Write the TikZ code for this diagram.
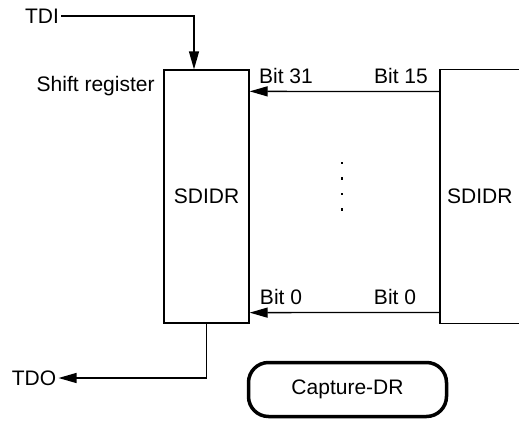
\documentclass[tikz,border=0pt]{standalone}
\usepackage{fontspec}
\setmainfont{Liberation Sans}
\usetikzlibrary{arrows.meta,calc,positioning}

\begin{document}
\begin{tikzpicture}[
    x=0.5pt, y=-0.5pt,
    >={Triangle[length=9pt,width=5pt]},
    every node/.style = {font=\fontsize{10.5}{12}\selectfont, inner sep=1pt},
    reg/.style   = {draw, line width=0.65pt,
                    minimum width=42.5pt, minimum height=126.5pt},
    sig/.style   = {line width=0.65pt,->},
    edge/.style  = {line width=0.65pt},
    state/.style = {draw, line width=1.75pt, rounded corners=10pt,
                    minimum width=99pt, minimum height=27pt},
    dot/.style   = {fill, inner sep=0pt, minimum size=1.3pt}
  ]

  \useasboundingbox (0,0) rectangle (519,423);
  \coordinate (origin) at (0,0);

  % registers
  \node[reg] (sdidr) at ($(origin)+(206.5,196.5)$) {SDIDR};
  \node[minimum width=39.25pt, minimum height=126.5pt] (src) at ($(origin)+(479.75,196.5)$) {SDIDR};
  \draw[edge] (src.north east) -- (src.north west) -- (src.south west) -- (src.south east);

  % labels
  \node (tdi) at ($(origin)+(42,16)$) {TDI};
  \node (tdo) at ($(origin)+(34,378)$) {TDO};
  \node[anchor=east] (shift) at ($(origin)+(157,86)$) {Shift register};

  \node (b31) at ($(origin)+(286,76)$) {Bit 31};
  \node (b15) at ($(origin)+(401,76)$) {Bit 15};
  \node (b0l) at ($(origin)+(281,297)$) {Bit 0};
  \node (b0r) at ($(origin)+(395,297)$) {Bit 0};

  \node[state] (cap) at ($(origin)+(347.5,389.5)$) {Capture-DR};

  \foreach \y [count=\i] in {163,178.5,194,209.5}
    \node[dot] (v\i) at ($(origin)+(342,\y)$) {};

  % connections
  \draw[sig] (tdi.east) -| ($(sdidr.north)+(-12.5,0)$);
  \draw[sig] (sdidr.south) |- (tdo.east);

  \draw[sig] ($(src.north west)+(0,22)$) -- ($(sdidr.north east)+(0,22)$);
  \draw[sig] ($(src.south west)+(0,-11)$) -- ($(sdidr.south east)+(0,-11)$);

\end{tikzpicture}
\end{document}
